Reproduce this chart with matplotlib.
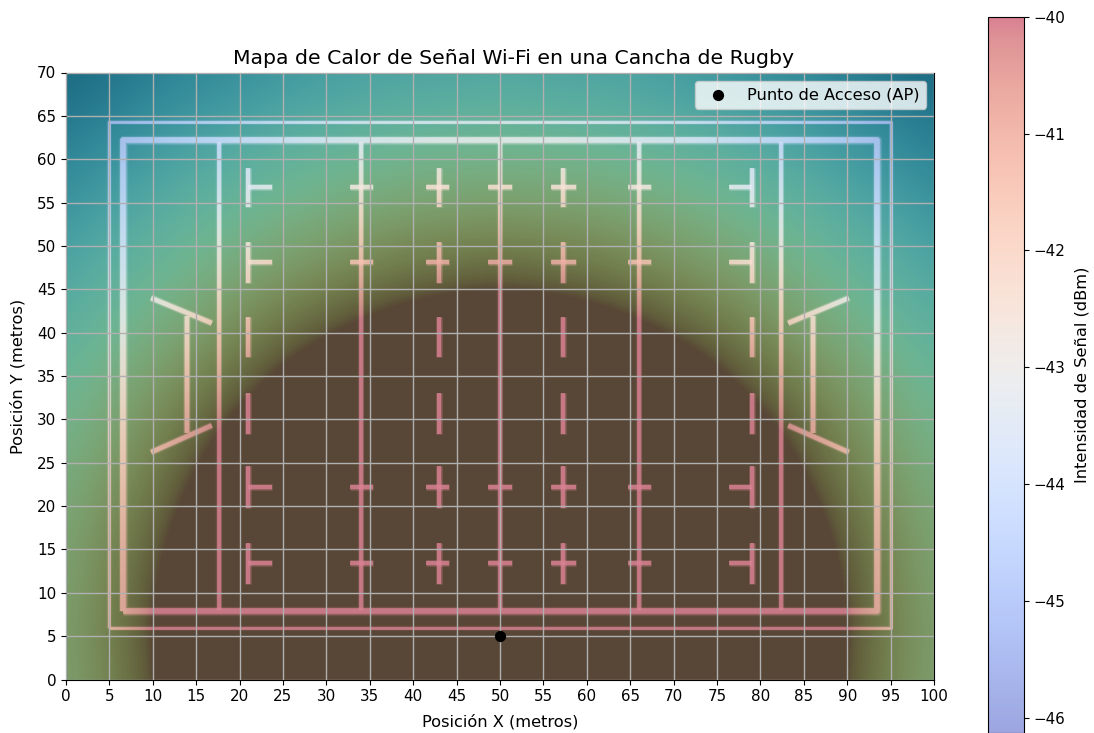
import numpy as np
from matplotlib import pyplot as plt

# signal, cells every 5 m. top row is y=70
# anything above -40 is saturated in the picture, -36 there just means "stronger than the scale"
x_cells = list(range(0, 105, 5))
y_cells = list(range(70, -5, -5))
signal_dbm = [
    [-46.2,-45.9,-45.6,-45.3,-45.1,-44.8,-44.6,-44.4,-44.3,-44.3,-44.2,-44.3,-44.3,-44.4,-44.6,-44.8,-45.1,-45.3,-45.6,-45.9,-46.2],
    [-45.8,-45.5,-45.1,-44.8,-44.5,-44.2,-44.0,-43.8,-43.7,-43.6,-43.5,-43.6,-43.7,-43.8,-44.0,-44.2,-44.5,-44.8,-45.1,-45.5,-45.8],
    [-45.4,-45.0,-44.6,-44.2,-43.9,-43.6,-43.3,-43.1,-42.9,-42.8,-42.8,-42.8,-42.9,-43.1,-43.3,-43.6,-43.9,-44.2,-44.6,-45.0,-45.4],
    [-45.0,-44.5,-44.1,-43.7,-43.3,-42.9,-42.6,-42.3,-42.1,-42.0,-41.9,-42.0,-42.1,-42.3,-42.6,-42.9,-43.3,-43.7,-44.1,-44.5,-45.0],
    [-44.5,-44.0,-43.6,-43.1,-42.6,-42.2,-41.8,-41.5,-41.2,-41.1,-41.0,-41.1,-41.2,-41.5,-41.8,-42.2,-42.6,-43.1,-43.6,-44.0,-44.5],
    [-44.1,-43.6,-43.0,-42.5,-41.9,-41.4,-41.0,-40.6,-40.3,-40.1,-40.0,-40.1,-40.3,-40.6,-41.0,-41.4,-41.9,-42.5,-43.0,-43.6,-44.1],
    [-43.7,-43.1,-42.5,-41.9,-41.2,-40.6,-40.1,-39.6,-39.2,-38.9,-38.8,-38.9,-39.2,-39.6,-40.1,-40.6,-41.2,-41.9,-42.5,-43.1,-43.7],
    [-43.3,-42.6,-41.9,-41.2,-40.5,-39.8,-39.1,-38.5,-38.0,-37.6,-37.5,-37.6,-38.0,-38.5,-39.1,-39.8,-40.5,-41.2,-41.9,-42.6,-43.3],
    [-42.9,-42.2,-41.4,-40.6,-39.8,-39.0,-38.0,-37.3,-36.6,-36.1,-36.0,-36.1,-36.6,-37.3,-38.0,-39.0,-39.8,-40.6,-41.4,-42.2,-42.9],
    [-42.6,-41.8,-41.0,-40.1,-39.1,-38.0,-37.0,-36.0,-36.0,-36.0,-36.0,-36.0,-36.0,-36.0,-37.0,-38.0,-39.1,-40.1,-41.0,-41.8,-42.6],
    [-42.3,-41.5,-40.6,-39.6,-38.5,-37.3,-36.0,-36.0,-36.0,-36.0,-36.0,-36.0,-36.0,-36.0,-36.0,-37.3,-38.5,-39.6,-40.6,-41.5,-42.3],
    [-42.1,-41.2,-40.3,-39.2,-38.0,-36.6,-36.0,-36.0,-36.0,-36.0,-36.0,-36.0,-36.0,-36.0,-36.0,-36.6,-38.0,-39.2,-40.3,-41.2,-42.1],
    [-42.0,-41.1,-40.1,-38.9,-37.6,-36.1,-36.0,-36.0,-36.0,-36.0,-36.0,-36.0,-36.0,-36.0,-36.0,-36.1,-37.6,-38.9,-40.1,-41.1,-42.0],
    [-41.9,-41.0,-40.0,-38.8,-37.5,-36.0,-36.0,-36.0,-36.0,-36.0,-36.0,-36.0,-36.0,-36.0,-36.0,-36.0,-37.5,-38.8,-40.0,-41.0,-41.9],
    [-42.0,-41.1,-40.1,-38.9,-37.6,-36.1,-36.0,-36.0,-36.0,-36.0,-36.0,-36.0,-36.0,-36.0,-36.0,-36.1,-37.6,-38.9,-40.1,-41.1,-42.0],
]
ap_x = [50]
ap_y = [5]
ap_label = 'Punto de Acceso (AP)'

# pitch drawing, metres
outer_x = [5, 95, 95, 5, 5]
outer_y = [5.9, 5.9, 64.3, 64.3, 5.9]
inner_x = [6.6, 93.4, 93.4, 6.6, 6.6]
inner_y = [7.9, 7.9, 62.2, 62.2, 7.9]
long_lines_x = [17.6, 34, 50, 66, 82.4]
dash_col_x = [21, 43, 57.3, 79]
dash_spans_y = [(54.5, 59), (45.7, 50.4), (37.2, 41.8), (28.3, 33), (19.8, 24.6), (11, 15.7)]
tick_rows_y = [56.8, 48.1, 22.2, 13.4]
tick_spans_x = [(21, 23.7), (32.7, 35.4), (41.5, 44.1), (48.6, 51.4), (55.9, 58.7), (64.7, 67.4), (76.4, 79)]
posts = [
    ([9.8, 16.8], [44, 41.1]), ([13.9, 13.9], [41.9, 28.4]), ([9.8, 16.8], [26.2, 29.3]),
    ([90.2, 83.2], [44, 41.1]), ([86.1, 86.1], [41.9, 28.4]), ([90.2, 83.2], [26.2, 29.3]),
]

plt.rcParams['xtick.labelsize'] = 10.9
plt.rcParams['ytick.labelsize'] = 10.9
fig = plt.figure(figsize=(10.94, 7.33), dpi=100)
ax = fig.add_axes([66/1094, 1-679.5/733, 868/1094, 607/733])
ax.set_facecolor((0, 140/255, 70/255))

def field_line(xs, ys, w):
    # soft edge then core, the original pitch looks like a blurred image
    ax.plot(xs, ys, color='white', lw=w*1.7, alpha=0.18, zorder=1, solid_capstyle='butt')
    ax.plot(xs, ys, color='white', lw=w*1.3, alpha=0.3, zorder=1.05, solid_capstyle='butt')
    ax.plot(xs, ys, color='white', lw=w, alpha=0.75, zorder=1.1, solid_capstyle='butt')

field_line(outer_x, outer_y, 1.9)
field_line(inner_x, inner_y, 4.0)
for x in long_lines_x:
    field_line([x, x], [8, 62], 2.7)
for x in dash_col_x:
    for y0, y1 in dash_spans_y:
        field_line([x, x], [y0, y1], 3.0)
for y in tick_rows_y:
    for x0, x1 in tick_spans_x:
        field_line([x0, x1], [y, y], 3.0)
for xs, ys in posts:
    field_line(xs, ys, 3.2)

im = ax.imshow(signal_dbm, extent=[-2.5, 102.5, -2.5, 72.5], origin='upper', cmap='coolwarm',
               vmin=-46.13, vmax=-40, alpha=0.5, interpolation='bicubic', zorder=2)
ax.scatter(ap_x, ap_y, color='black', s=50, label=ap_label, zorder=5)

ax.set_xlim(0, 100)
ax.set_ylim(0, 70)
ax.set_aspect('auto')
ax.set_xticks(np.arange(0, 105, 5))
ax.set_yticks(np.arange(0, 75, 5))
ax.grid(True, linewidth=1.0)
ax.set_axisbelow(False)
ax.set_title('Mapa de Calor de Señal Wi-Fi en una Cancha de Rugby', fontsize=14.7, pad=6, x=0.516)
ax.set_xlabel('Posición X (metros)', fontsize=11.7, labelpad=7)
ax.set_ylabel('Posición Y (metros)', fontsize=11.7, labelpad=8.5)
ax.legend(loc='upper right', fontsize=11.7)

cax = fig.add_axes([988/1094, 0, 36/1094, 1-16.7/733])
cbar = fig.colorbar(im, cax=cax)
cbar.set_ticks([-40, -41, -42, -43, -44, -45, -46])
cbar.set_label('Intensidad de Señal (dBm)', fontsize=11.7, labelpad=6.5)

plt.savefig('out.png', dpi=100)
